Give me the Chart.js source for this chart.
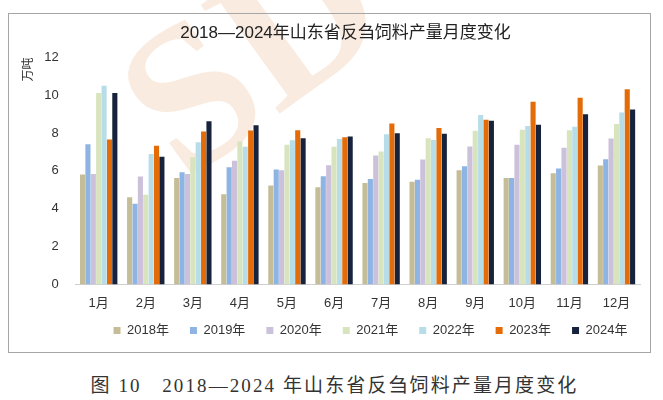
<!DOCTYPE html>
<html>
<head>
<meta charset="utf-8">
<script src="https://cdn.jsdelivr.net/npm/chart.js@4/dist/chart.umd.min.js"></script>
<style>
  html, body { margin:0; padding:0; background:#fff; }
  body { width:663px; height:400px; position:relative; overflow:hidden; }
  #mark {
    position:absolute; left:100px; top:-70px; width:300px; height:240px; text-align:center;
    font-family:"Liberation Serif",serif; font-weight:bold; font-size:205px; line-height:240px;
    color:rgba(232,180,135,0.27); transform:rotate(-36deg);
  }
  #box { position:absolute; left:8px; top:13px; width:641px; height:338px; border:1px solid #a6a6a6; }
  #caption {
    position:absolute; left:0; top:370px; width:663px; text-align:center;
    font-family:"Liberation Serif","DejaVu Serif","Noto Sans CJK SC",serif; font-size:19px;
    color:#333; letter-spacing:2.1px; padding-left:6px; box-sizing:border-box;
  }
</style>
</head>
<body>
<div id="mark">SD</div>
<div id="box"><canvas id="chart" width="641" height="338"></canvas></div>
<div id="caption">图 10&nbsp;&nbsp;&nbsp;2018—2024 年山东省反刍饲料产量月度变化</div>
<script>
const months = ['1月','2月','3月','4月','5月','6月','7月','8月','9月','10月','11月','12月'];
const years  = ['2018年','2019年','2020年','2021年','2022年','2023年','2024年'];
const colors = ['#c4bd97','#8eb4e3','#ccc1da','#d7e4bd','#b7dee8','#e36c09','#17233c'];

const v2018 = [5.81,4.61,5.62,4.76,5.23,5.13,5.36,5.43,6.04,5.62,5.88,6.28];
const v2019 = [7.41,4.26,5.93,6.19,6.07,5.72,5.57,5.53,6.25,5.62,6.13,6.61];
const v2020 = [5.84,5.71,5.83,6.54,6.04,6.30,6.82,6.60,7.29,7.38,7.22,7.71];
const v2021 = [10.12,4.74,6.72,7.55,7.38,7.28,7.03,7.73,8.12,8.18,8.15,8.48];
const v2022 = [10.50,6.89,7.52,7.28,7.62,7.68,7.94,7.64,8.95,8.38,8.34,9.09];
const v2023 = [7.66,7.33,8.08,8.13,8.15,7.78,8.50,8.27,8.71,9.66,9.87,10.31];
const v2024 = [10.12,6.75,8.62,8.41,7.73,7.82,7.99,7.96,8.65,8.44,9.00,9.25];
const series = [v2018,v2019,v2020,v2021,v2022,v2023,v2024];

const yTicks = [0,2,4,6,8,10,12];
const FONT = '"Liberation Sans","Noto Sans CJK SC",sans-serif';

// title and legend sit centred over the bars, legend tucked up under the month labels
const nudge = {
  id: 'nudge',
  afterLayout(chart) {
    const t = chart.titleBlock, lg = chart.legend;
    if (t)  { t.left += 15; t.right += 15; }
    if (lg) { lg.left += 40; lg.right += 40; lg.top -= 19; }
  },
};

new Chart(document.getElementById('chart').getContext('2d'), {
  type: 'bar',
  data: {
    labels: months,
    datasets: series.map((d,i) => ({
      label: years[i],
      data: d,
      backgroundColor: colors[i],
      borderWidth: 0,
      barPercentage: 0.95,
      categoryPercentage: 0.8,
    })),
  },
  options: {
    responsive: false,
    animation: false,
    layout: { padding: { left: 12, right: 10, top: 5, bottom: 1 } },
    plugins: {
      title: {
        display: true,
        text: '2018—2024年山东省反刍饲料产量月度变化',
        color: '#222',
        font: { family: FONT, size: 17, weight: 'normal' },
        padding: { top: 4, bottom: 14 },
      },
      legend: {
        position: 'bottom',
        maxHeight: 29,
        labels: {
          boxWidth: 7, boxHeight: 7, padding: 21,
          color: '#333',
          font: { family: FONT, size: 13 },
        },
      },
      tooltip: { enabled: false },
    },
    scales: {
      x: {
        grid: { display: false, drawTicks: false },
        border: { color: '#d0d0d0', width: 1 },
        ticks: { color: '#333', font: { family: FONT, size: 13 }, padding: 11 },
      },
      y: {
        min: 0, max: 12,
        afterBuildTicks: axis => { axis.ticks = yTicks.map(v => ({ value: v })); },
        grid: { display: false, drawTicks: false },
        border: { display: false },
        ticks: { color: '#333', font: { family: FONT, size: 13 }, padding: 16.5 },
        title: {
          display: true, text: '万吨', align: 'end',
          color: '#333', font: { family: FONT, size: 12 }, padding: { top: 0, bottom: -7.7 },
        },
      },
    },
  },
  plugins: [nudge],
});
</script>
</body>
</html>
